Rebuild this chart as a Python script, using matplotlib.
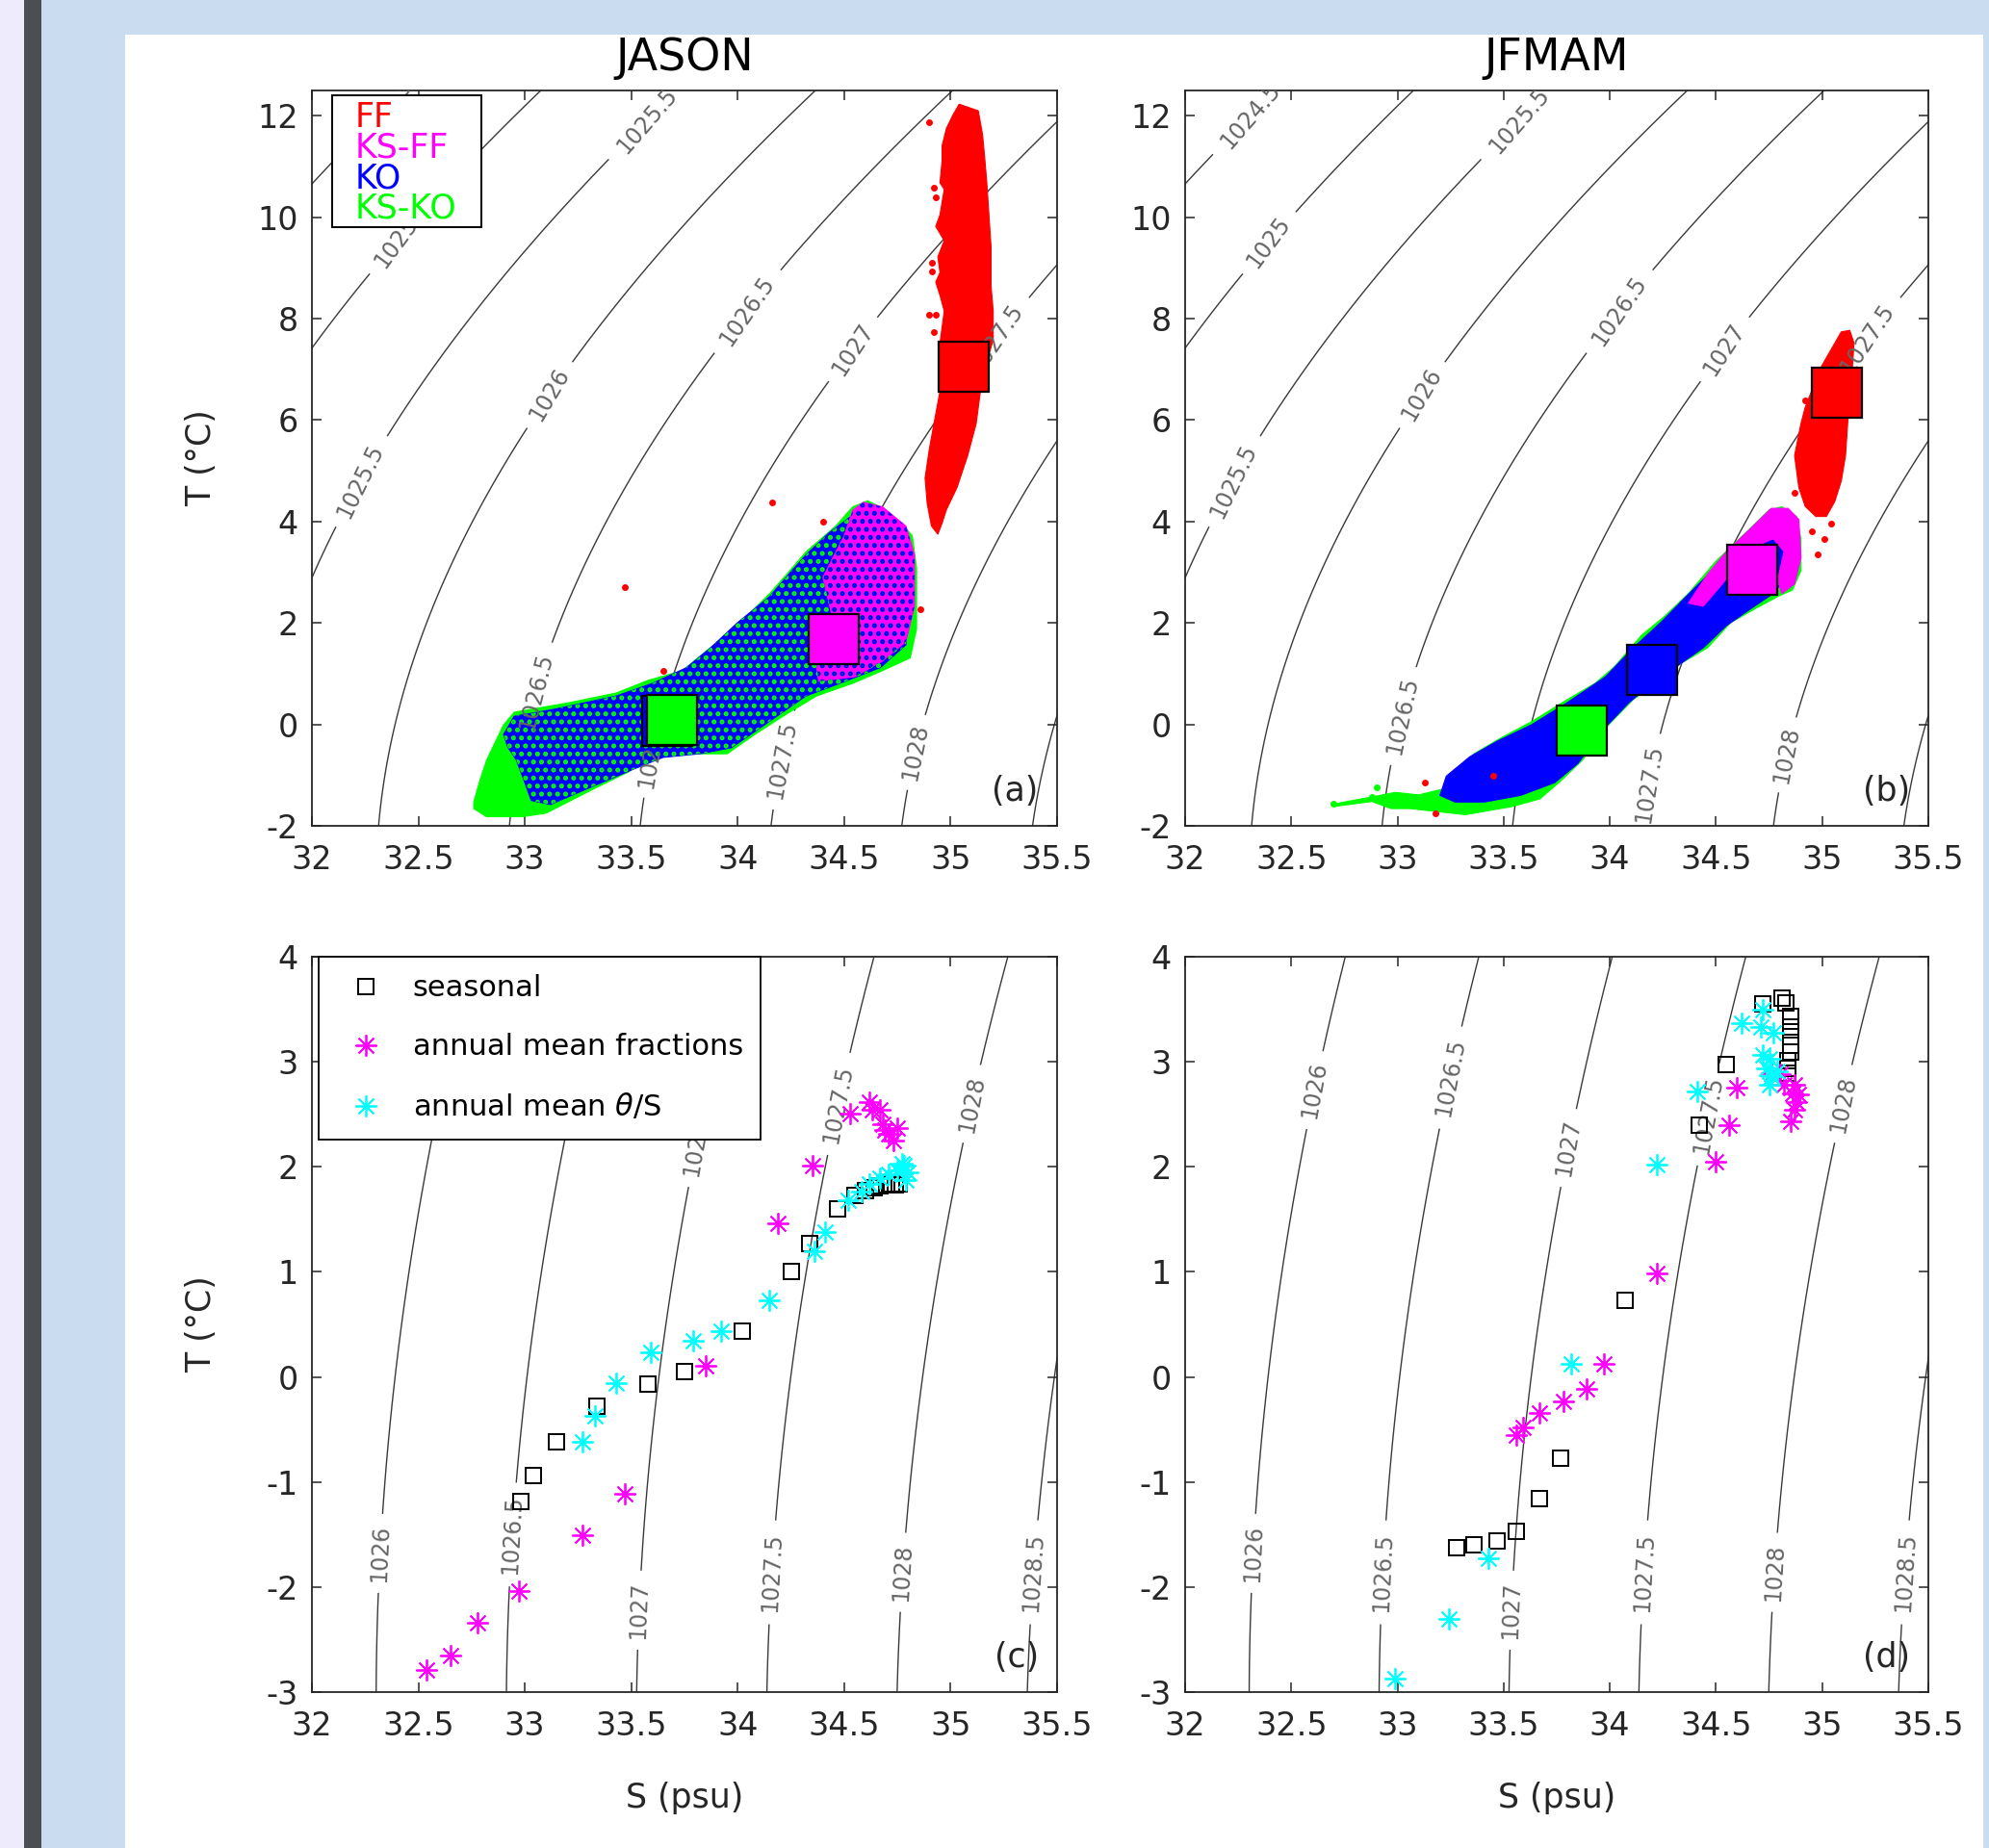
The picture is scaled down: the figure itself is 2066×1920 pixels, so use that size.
import numpy as np
import matplotlib
matplotlib.use("Agg")
import matplotlib.pyplot as plt
from matplotlib.patches import Rectangle
from matplotlib.lines import Line2D

plt.rcParams['font.family'] = ['DejaVu Sans']
plt.rcParams['hatch.linewidth'] = 2.4

# ---------------- data ----------------
s_ticks = [32, 32.5, 33, 33.5, 34, 34.5, 35, 35.5]
t_ticks_top = [-2, 0, 2, 4, 6, 8, 10, 12]
t_ticks_bot = [-3, -2, -1, 0, 1, 2, 3, 4]
sig_levels_top = [1024.5, 1025, 1025.5, 1026, 1026.5, 1027, 1027.5, 1028, 1028.5]
sig_levels_bot = [1026, 1026.5, 1027, 1027.5, 1028, 1028.5]

wm_names = ['FF', 'KS-FF', 'KO', 'KS-KO']
wm_colors = ['#ff0000', '#ff00ff', '#0000ff', '#00ff00']

# water-mass means (big squares): FF, KS-FF, KO, KS-KO
jason_mean_s = [35.06, 34.45, 33.67, 33.69]
jason_mean_t = [7.05, 1.69, 0.06, 0.09]
jfmam_mean_s = [35.07, 34.67, 34.20, 33.87]
jfmam_mean_t = [6.54, 3.05, 1.08, -0.13]

# cloud outlines (S, T)
jason_ff_outline = [(35.04, 12.23), (35.13, 12.10), (35.15, 11.63), (35.16, 11.18), (35.17, 10.68),
                    (35.18, 10.05), (35.19, 9.41), (35.19, 8.65), (35.20, 8.15), (35.20, 7.58),
                    (35.16, 7.01), (35.14, 6.57), (35.12, 5.93), (35.08, 5.30), (35.03, 4.67),
                    (34.98, 4.23), (34.96, 3.97), (34.94, 3.75), (34.91, 3.91), (34.89, 4.35),
                    (34.88, 4.86), (34.90, 5.43), (34.93, 6.12), (34.95, 6.57), (34.95, 7.52),
                    (34.97, 8.15), (34.95, 8.46), (34.93, 8.72), (34.95, 8.91), (34.94, 9.22),
                    (34.97, 9.54), (34.93, 9.82), (34.95, 10.05), (34.97, 10.55), (34.95, 10.68),
                    (34.96, 11.12), (34.96, 11.41), (34.98, 11.75), (35.01, 12.01)]
jason_ff_sparse = [(34.90, 11.88), (34.92, 10.58), (34.93, 10.40), (34.91, 9.10), (34.91, 8.94),
                   (34.90, 8.07), (34.93, 8.07), (34.92, 7.74), (34.16, 4.38), (34.40, 3.99),
                   (33.47, 2.71), (33.65, 1.05), (34.86, 2.27)]
jason_ksko_outline = [(32.76, -1.66), (32.82, -1.82), (32.99, -1.82), (33.10, -1.75), (33.32, -1.28),
                      (33.49, -0.93), (33.63, -0.52), (33.80, -0.58), (33.95, -0.58), (34.08, -0.20),
                      (34.22, 0.18), (34.37, 0.56), (34.54, 0.81), (34.68, 1.06), (34.81, 1.31),
                      (34.84, 1.88), (34.84, 3.09), (34.82, 3.72), (34.78, 3.91), (34.67, 4.29),
                      (34.61, 4.41), (34.54, 4.29), (34.46, 3.91), (34.32, 3.40), (34.23, 2.96),
                      (34.15, 2.58), (33.98, 1.88), (33.85, 1.44), (33.74, 1.06), (33.58, 0.87),
                      (33.43, 0.62), (33.21, 0.43), (32.95, 0.24), (32.90, -0.01), (32.87, -0.27),
                      (32.82, -0.71), (32.79, -1.09), (32.76, -1.53)]
jason_ko_outline = [(32.90, -0.20), (32.95, 0.16), (33.14, 0.30), (33.43, 0.56), (33.60, 0.81),
                    (33.76, 1.12), (33.87, 1.50), (34.00, 2.01), (34.15, 2.52), (34.24, 2.96),
                    (34.32, 3.34), (34.43, 3.78), (34.55, 4.16), (34.65, 4.29), (34.74, 3.91),
                    (34.79, 3.34), (34.80, 2.45), (34.79, 1.57), (34.67, 1.12), (34.48, 0.81),
                    (34.32, 0.56), (34.19, 0.18), (34.06, -0.20), (33.97, -0.46), (33.82, -0.58),
                    (33.65, -0.65), (33.50, -0.90), (33.32, -1.22), (33.12, -1.58), (33.03, -1.50),
                    (33.00, -1.15), (32.96, -0.70), (32.92, -0.45)]
jason_ksff_outline = [(34.59, 4.38), (34.68, 4.29), (34.79, 3.91), (34.83, 3.34), (34.83, 2.33),
                      (34.79, 1.63), (34.68, 1.25), (34.55, 0.94), (34.38, 0.85), (34.36, 1.44),
                      (34.45, 2.01), (34.40, 2.90), (34.50, 3.72), (34.54, 4.22)]

jfmam_ff_outline = [(35.13, 7.77), (35.15, 7.52), (35.14, 6.90), (35.12, 5.93), (35.11, 5.30),
                    (35.09, 4.80), (35.06, 4.40), (35.02, 4.10), (34.97, 4.10), (34.92, 4.30),
                    (34.89, 4.67), (34.87, 5.30), (34.90, 5.93), (34.92, 6.25), (34.99, 7.01),
                    (35.05, 7.45), (35.09, 7.74)]
jfmam_ff_sparse = [(34.92, 6.38), (34.87, 4.57), (35.01, 3.66), (34.98, 3.35), (34.95, 3.80),
                   (35.04, 3.95), (33.45, -1.01), (33.13, -1.15), (33.18, -1.75)]
jfmam_ksko_outline = [(32.70, -1.57), (32.88, -1.43), (32.99, -1.34), (33.10, -1.39), (33.21, -1.28),
                      (33.27, -0.96), (33.36, -0.58), (33.49, -0.26), (33.63, 0.05), (33.80, 0.49),
                      (33.93, 0.81), (34.02, 1.13), (34.15, 1.76), (34.26, 2.14), (34.37, 2.58),
                      (34.50, 3.22), (34.64, 3.78), (34.75, 4.23), (34.81, 4.29), (34.88, 4.10),
                      (34.90, 3.66), (34.90, 3.03), (34.86, 2.65), (34.79, 2.52), (34.68, 2.27),
                      (34.57, 2.01), (34.46, 1.51), (34.33, 1.19), (34.24, 0.87), (34.11, 0.49),
                      (33.98, -0.07), (33.87, -0.71), (33.76, -1.15), (33.67, -1.47), (33.54, -1.62),
                      (33.32, -1.78), (33.19, -1.72), (33.06, -1.66), (32.97, -1.66), (32.88, -1.52),
                      (32.70, -1.62)]
jfmam_ko_outline = [(33.20, -1.40), (33.23, -1.02), (33.34, -0.64), (33.47, -0.33), (33.63, -0.01),
                    (33.80, 0.43), (33.98, 0.94), (34.11, 1.51), (34.24, 2.01), (34.39, 2.65),
                    (34.53, 3.22), (34.64, 3.66), (34.75, 3.78), (34.83, 3.53), (34.83, 2.90),
                    (34.77, 2.58), (34.66, 2.27), (34.55, 1.95), (34.44, 1.51), (34.31, 1.13),
                    (34.20, 0.81), (34.09, 0.43), (33.96, -0.14), (33.85, -0.77), (33.74, -1.15),
                    (33.58, -1.40), (33.41, -1.53), (33.27, -1.53)]
jfmam_ksff_outline = [(34.55, 3.41), (34.66, 3.85), (34.76, 4.26), (34.84, 4.26), (34.89, 4.04),
                      (34.90, 3.28), (34.87, 2.77), (34.81, 2.58), (34.79, 2.84), (34.82, 3.41),
                      (34.77, 3.66), (34.66, 3.47), (34.53, 2.77), (34.44, 2.33), (34.37, 2.39),
                      (34.46, 2.96)]
jfmam_ksko_sparse = [(32.70, -1.57), (32.88, -1.43), (32.90, -1.24)]

# (c) JASON means
jason_seasonal_s = [32.98, 33.04, 33.15, 33.34, 33.58, 33.75, 34.02, 34.25, 34.34, 34.47, 34.55,
                    34.60, 34.64, 34.67, 34.70, 34.72, 34.74, 34.76]
jason_seasonal_t = [-1.19, -0.94, -0.62, -0.28, -0.07, 0.05, 0.44, 1.00, 1.27, 1.60, 1.73,
                    1.77, 1.80, 1.82, 1.83, 1.84, 1.83, 1.84]
jason_frac_s = [32.54, 32.65, 32.78, 32.97, 33.27, 33.47, 33.85, 34.19, 34.35, 34.53, 34.62,
                34.63, 34.67, 34.68, 34.69, 34.71, 34.75, 34.73]
jason_frac_t = [-2.79, -2.65, -2.34, -2.04, -1.51, -1.11, 0.11, 1.46, 2.01, 2.51, 2.62,
                2.54, 2.54, 2.41, 2.35, 2.31, 2.37, 2.25]
jason_ts_s = [33.27, 33.33, 33.43, 33.59, 33.79, 33.92, 34.15, 34.36, 34.41, 34.52, 34.58,
              34.62, 34.67, 34.71, 34.75, 34.78, 34.80, 34.79, 34.77]
jason_ts_t = [-0.62, -0.37, -0.06, 0.23, 0.34, 0.44, 0.73, 1.20, 1.38, 1.68, 1.76,
              1.84, 1.89, 1.93, 1.97, 2.01, 1.95, 1.87, 2.03]

# (d) JFMAM means
jfmam_seasonal_s = [33.28, 33.36, 33.47, 33.56, 33.67, 33.77, 34.07, 34.42, 34.55, 34.72, 34.81,
                    34.83, 34.85, 34.85, 34.85, 34.85, 34.85, 34.84, 34.84, 34.84]
jfmam_seasonal_t = [-1.63, -1.60, -1.56, -1.47, -1.16, -0.77, 0.73, 2.40, 2.97, 3.55, 3.61,
                    3.56, 3.43, 3.33, 3.24, 3.16, 3.09, 3.01, 2.94, 2.89]
jfmam_frac_s = [33.56, 33.59, 33.67, 33.78, 33.89, 33.97, 34.22, 34.50, 34.56, 34.60, 34.76,
                34.80, 34.82, 34.87, 34.86, 34.89, 34.88, 34.87, 34.85]
jfmam_frac_t = [-0.55, -0.48, -0.34, -0.23, -0.11, 0.12, 0.99, 2.05, 2.40, 2.75, 2.89,
                2.88, 2.78, 2.78, 2.70, 2.69, 2.62, 2.54, 2.43]
jfmam_ts_s = [32.99, 33.24, 33.43, 33.82, 34.22, 34.41, 34.62, 34.72, 34.71, 34.77, 34.72,
              34.75, 34.74, 34.76, 34.75, 34.79]
jfmam_ts_t = [-2.87, -2.30, -1.73, 0.12, 2.02, 2.72, 3.37, 3.50, 3.33, 3.28, 3.07,
              3.03, 2.94, 2.86, 2.78, 2.91]

# contour label spots: (isopycnal, temperature on that line)
labels_a = [(1024.5, 12.1), (1025, 9.5), (1025.5, 11.9), (1025.5, 4.8), (1026, 6.5), (1026.5, 8.15),
            (1027, 7.4), (1027.5, 7.6), (1026.5, 0.66), (1027, -0.7), (1027.5, -0.7), (1028, -0.55)]
labels_b = [(1024.5, 12.0), (1025, 9.5), (1025.5, 11.9), (1025.5, 4.8), (1026, 6.5), (1026.5, 8.15),
            (1027, 7.4), (1027.5, 7.6), (1026.5, 0.17), (1027.5, -1.16), (1028, -0.6)]
labels_c = [(1026, -1.68), (1026.5, -1.5), (1027, -2.22), (1027.5, -1.86), (1028, -1.86),
            (1028.5, -1.86), (1026, 3.4), (1026.5, 3.3), (1027, 2.18), (1027.5, 2.6), (1028, 2.6)]
labels_d = [(1026, -1.68), (1026.5, -1.86), (1027, -2.22), (1027.5, -1.86), (1028, -1.86),
            (1028.5, -1.86), (1026, 2.73), (1026.5, 2.85), (1027, 2.18), (1027.5, 2.5), (1028, 2.6)]


def rho0(s, t):
    # UNESCO EOS-80 at surface pressure
    rw = (999.842594 + 6.793952e-2 * t - 9.095290e-3 * t**2 + 1.001685e-4 * t**3
          - 1.120083e-6 * t**4 + 6.536332e-9 * t**5)
    a = 8.24493e-1 - 4.0899e-3 * t + 7.6438e-5 * t**2 - 8.2467e-7 * t**3 + 5.3875e-9 * t**4
    b = -5.72466e-3 + 1.0227e-4 * t - 1.6546e-6 * t**2
    return rw + a * s + b * s**1.5 + 4.8314e-4 * s**2


def s_on_line(level, t):
    sg = np.linspace(30, 38, 2000)
    return float(np.interp(level, rho0(sg, t), sg))


INK = '#262626'
LINE = '#3a3a3a'


def style_axes(ax, yticks, ylim):
    ax.set_xlim(32, 35.5)
    ax.set_ylim(*ylim)
    ax.set_xticks(s_ticks)
    ax.set_xticklabels(['%g' % v for v in s_ticks])
    ax.set_yticks(yticks)
    ax.set_yticklabels(['%g' % v for v in yticks])
    ax.tick_params(direction='in', top=True, right=True, length=7, width=1.1,
                   labelsize=24, colors=INK, pad=10)
    ax.tick_params(axis='x', pad=14)
    for sp in ax.spines.values():
        sp.set_color(INK)
        sp.set_linewidth(1.3)


def isopycnals(ax, levels, tlim, label_spots):
    sg, tg = np.meshgrid(np.linspace(31.5, 36, 220), np.linspace(tlim[0], tlim[1], 220))
    cs = ax.contour(sg, tg, rho0(sg, tg), levels=levels, colors=LINE, linewidths=1.0, zorder=1)
    spots = [(s_on_line(lv, t), t) for lv, t in label_spots]
    ax.clabel(cs, levels, manual=spots, inline=True, fmt='%g', fontsize=17,
              inline_spacing=6, colors='#666666')
    return cs


def cloud(ax, outline, color, speckle=None, z=2):
    pts = np.array(outline)
    ax.fill(pts[:, 0], pts[:, 1], facecolor=color, edgecolor=color, lw=0.8, zorder=z)
    if speckle is not None:
        ax.fill(pts[:, 0], pts[:, 1], facecolor='none', edgecolor=speckle, hatch='..',
                lw=0, zorder=z + 0.1)


def dots(ax, pts, color, z=2.5):
    pts = np.array(pts)
    ax.plot(pts[:, 0], pts[:, 1], 'o', color=color, ms=5, mew=0, zorder=z)


def mean_squares(ax, ss, tt, order):
    for i in order:
        ax.plot(ss[i], tt[i], 's', ms=37, mfc=wm_colors[i], mec='k', mew=1.6, zorder=5)


fig = plt.figure(figsize=(20.66, 19.2), dpi=100)
fig.patch.set_facecolor('#c9dcf0')
W, H = 2066.0, 1920.0
fig.add_artist(Rectangle((130 / W, 0), (2060 - 130) / W, (H - 36) / H, transform=fig.transFigure,
                         facecolor='white', edgecolor='none', zorder=-10))
fig.add_artist(Rectangle((0, 0), 25 / W, 1, transform=fig.transFigure,
                         facecolor='#edebfc', edgecolor='none', zorder=-10))
fig.add_artist(Rectangle((25 / W, 0), 18 / W, 1, transform=fig.transFigure,
                         facecolor='#4b4e53', edgecolor='none', zorder=-10))

ax_a = fig.add_axes([324 / W, 1 - 858 / H, 774 / W, 764 / H])
ax_b = fig.add_axes([1231 / W, 1 - 858 / H, 772 / W, 764 / H])
ax_c = fig.add_axes([324 / W, 1 - 1758 / H, 774 / W, 764 / H])
ax_d = fig.add_axes([1231 / W, 1 - 1758 / H, 772 / W, 764 / H])

# ---- (a) JASON clouds ----
isopycnals(ax_a, sig_levels_top, (-3, 13), labels_a)
cloud(ax_a, jason_ksko_outline, wm_colors[3])
cloud(ax_a, jason_ko_outline, wm_colors[2], speckle=wm_colors[3])
cloud(ax_a, jason_ksff_outline, wm_colors[1], speckle=wm_colors[2])
cloud(ax_a, jason_ff_outline, wm_colors[0])
dots(ax_a, jason_ff_sparse, wm_colors[0])
mean_squares(ax_a, jason_mean_s, jason_mean_t, [0, 1, 2, 3])

# ---- (b) JFMAM clouds ----
isopycnals(ax_b, sig_levels_top, (-3, 13), labels_b)
cloud(ax_b, jfmam_ksko_outline, wm_colors[3])
cloud(ax_b, jfmam_ko_outline, wm_colors[2])
cloud(ax_b, jfmam_ksff_outline, wm_colors[1])
dots(ax_b, jfmam_ksko_sparse, wm_colors[3])
cloud(ax_b, jfmam_ff_outline, wm_colors[0])
dots(ax_b, jfmam_ff_sparse, wm_colors[0])
mean_squares(ax_b, jfmam_mean_s, jfmam_mean_t, [0, 1, 2, 3])

for ax in (ax_a, ax_b):
    style_axes(ax, t_ticks_top, (-2, 12.5))

# legend of panel (a): coloured names only
ax_a.add_patch(Rectangle((0.027, 0.814), 0.2, 0.1795, transform=ax_a.transAxes,
                         facecolor='white', edgecolor='k', lw=1.4, zorder=8))
for k, (name, col) in enumerate(zip(wm_names, wm_colors)):
    ax_a.text(0.058, 0.9507 - k * 0.0415, name, color=col, fontsize=25, va='baseline',
              ha='left', transform=ax_a.transAxes, zorder=9)

# ---- (c), (d) ----
star = (8, 2, 0)
for ax, ss, st, fs, ft, ts, tt, spots in (
        (ax_c, jason_seasonal_s, jason_seasonal_t, jason_frac_s, jason_frac_t,
         jason_ts_s, jason_ts_t, labels_c),
        (ax_d, jfmam_seasonal_s, jfmam_seasonal_t, jfmam_frac_s, jfmam_frac_t,
         jfmam_ts_s, jfmam_ts_t, labels_d)):
    isopycnals(ax, sig_levels_bot, (-3.5, 4.5), spots)
    ax.plot(ss, st, 's', ms=12, mfc='none', mec='k', mew=1.4, zorder=4, clip_on=False)
    ax.plot(fs, ft, marker=star, ls='none', ms=16, color='#ff00ff', mew=1.3, zorder=4, clip_on=False)
    ax.plot(ts, tt, marker=star, ls='none', ms=16, color='#00ffff', mew=1.3, zorder=4, clip_on=False)
    style_axes(ax, t_ticks_bot, (-3, 4))

handles = [Line2D([], [], marker='s', ls='none', ms=12, mfc='none', mec='k', mew=1.4),
           Line2D([], [], marker=star, ls='none', ms=16, color='#ff00ff', mew=1.3),
           Line2D([], [], marker=star, ls='none', ms=16, color='#00ffff', mew=1.3)]
leg = ax_c.legend(handles, ['seasonal', 'annual mean fractions', r'annual mean $\theta$/S'],
                  loc='upper left', bbox_to_anchor=(0.009, 1.0), borderaxespad=0,
                  fontsize=22, frameon=True, fancybox=False, framealpha=1, edgecolor='k',
                  borderpad=0.6, labelspacing=1.05, handlelength=2.0, handletextpad=0.6)
leg.get_frame().set_linewidth(1.3)
leg.set_zorder(10)

# titles, labels, panel letters
ax_a.set_title('JASON', fontsize=33, pad=15, color='k')
ax_b.set_title('JFMAM', fontsize=33, pad=15, color='k')
for ax in (ax_a, ax_c):
    ax.set_ylabel('T (°C)', fontsize=25, color=INK)
    ax.yaxis.set_label_coords(-0.127, 0.5)
for ax in (ax_c, ax_d):
    ax.set_xlabel('S (psu)', fontsize=25, color=INK)
    ax.xaxis.set_label_coords(0.5, -0.122)
for ax, lab in zip((ax_a, ax_b, ax_c, ax_d), ('(a)', '(b)', '(c)', '(d)')):
    ax.text(0.975, 0.025, lab, transform=ax.transAxes, ha='right', va='bottom',
            fontsize=25, color=INK, zorder=9)

fig.savefig('out.png', dpi=100, facecolor=fig.get_facecolor())
